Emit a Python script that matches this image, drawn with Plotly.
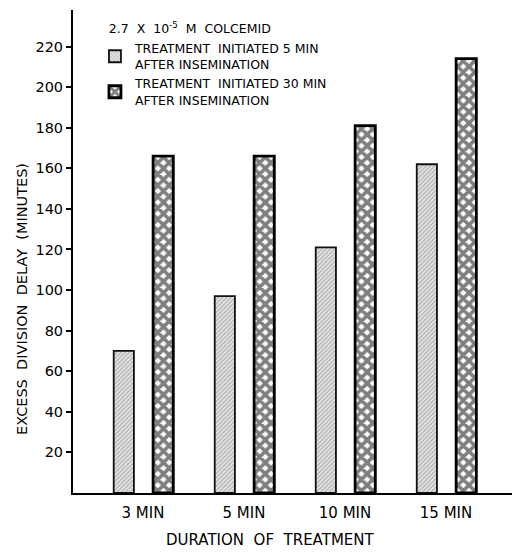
import plotly.graph_objects as go

# ---- data ----
durations = ["3 MIN", "5 MIN", "10 MIN", "15 MIN"]
delay_init_5min = [70, 97, 121, 162]
delay_init_30min = [166, 166, 181, 214]
y_tick_values = [20, 40, 60, 80, 100, 120, 140, 160, 180, 200, 220]
legend_title = "\u00a0\u00a0\u00a02.7  X  10<sup>-5</sup>  M  COLCEMID"
name_5min = "TREATMENT  INITIATED 5 MIN<br>AFTER INSEMINATION"
name_30min = "TREATMENT  INITIATED 30 MIN<br>AFTER INSEMINATION"
x_title = "DURATION  OF  TREATMENT"
y_title = "EXCESS  DIVISION  DELAY  (MINUTES)"

FONT = "DejaVu Sans"

fig = go.Figure()
fig.add_trace(go.Bar(
    x=durations, y=delay_init_5min, name=name_5min,
    width=0.2, offset=-0.29,
    marker=dict(
        color="#dcdcdc",
        line=dict(color="#111111", width=1.8),
        pattern=dict(shape="/", fgcolor="#6e6e6e", bgcolor="#e4e4e4",
                     size=3, solidity=0.35),
    ),
))
fig.add_trace(go.Bar(
    x=durations, y=delay_init_30min, name=name_30min,
    width=0.2, offset=0.10,
    marker=dict(
        color="white",
        line=dict(color="black", width=2.8),
        pattern=dict(shape="x", fgcolor="black", bgcolor="white",
                     size=8, solidity=0.7),
    ),
))

fig.update_layout(
    width=512, height=554,
    margin=dict(l=73, r=0, t=10, b=61),
    paper_bgcolor="white", plot_bgcolor="white",
    barmode="overlay",
    font=dict(family=FONT, color="black"),
    showlegend=True,
    legend=dict(
        x=0.05, y=0.985, xanchor="left", yanchor="top",
        title=dict(text=legend_title, font=dict(size=12.5, family=FONT)),
        font=dict(size=12.5, family=FONT),
        bgcolor="rgba(0,0,0,0)",
        tracegroupgap=5,
    ),
    xaxis=dict(
        range=[-0.693, 3.653],
        showline=True, linecolor="black", linewidth=1.6,
        showgrid=False, zeroline=False, ticks="",
        tickfont=dict(size=15, family=FONT),
        ticklabelstandoff=5,
    ),
    yaxis=dict(
        range=[0, 238],
        showline=True, linecolor="black", linewidth=2,
        showgrid=False, zeroline=False,
        tickvals=y_tick_values,
        ticks="outside", ticklen=5, tickwidth=1.5, tickcolor="black",
        tickfont=dict(size=14.5, family=FONT),
    ),
    annotations=[
        dict(text=y_title, xref="paper", yref="paper", x=-0.116, y=0.402,
             xanchor="center", yanchor="middle",
             textangle=-90, showarrow=False, font=dict(size=14.5, family=FONT)),
        dict(text=x_title, xref="paper", yref="paper", x=0.449, y=-0.097,
             xanchor="center", yanchor="middle",
             showarrow=False, font=dict(size=15, family=FONT)),
    ],
)

fig.write_html("out.html", config={"displayModeBar": False},
               post_script="document.body.style.margin='0';")
